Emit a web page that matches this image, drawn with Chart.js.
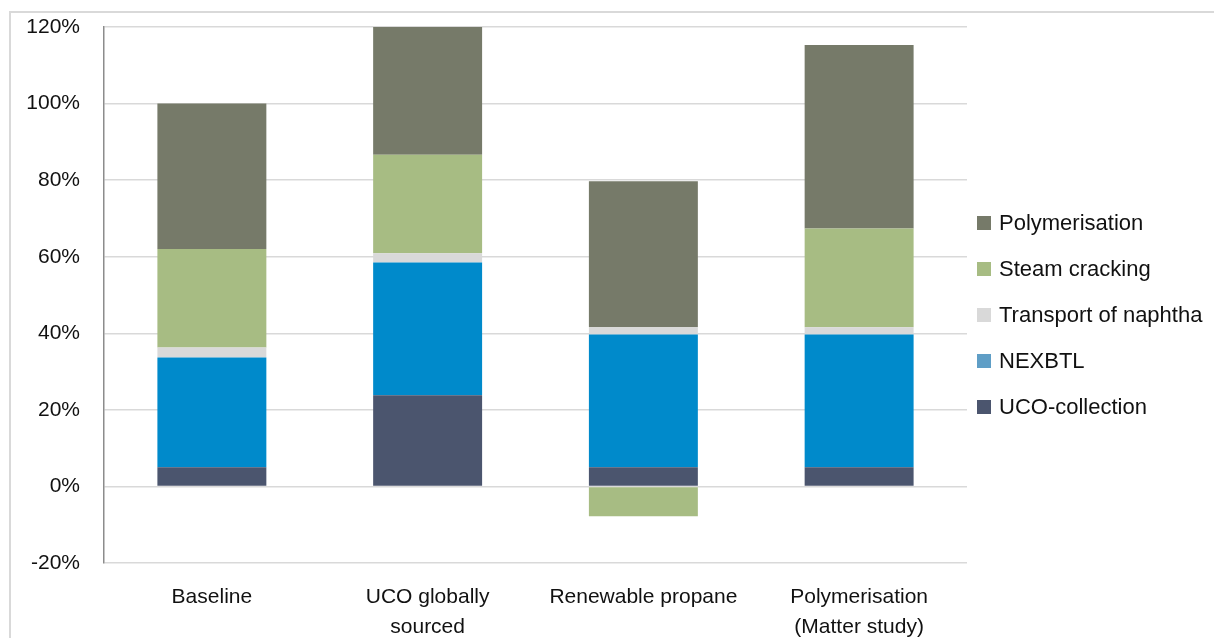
<!DOCTYPE html>
<html>
<head>
<meta charset="utf-8">
<script src="https://cdn.jsdelivr.net/npm/chart.js@4.4.1/dist/chart.umd.min.js"></script>
<style>
    html, body { margin: 0; padding: 0; background: #fff; }
    #wrap { position: relative; width: 1214px; height: 638px; overflow: hidden; }
    #frame { position: absolute; left: 9px; top: 11px; width: 1400px; height: 900px;
             border-top: 2px solid #d9d9d9; border-left: 2px solid #d9d9d9; }
    #holder { position: absolute; left: 0; top: 0; width: 1214px; height: 700px; }
</style>
</head>
<body>
<div id="wrap">
    <div id="frame"></div>
    <div id="holder"><canvas id="lcaChart"></canvas></div>
</div>
<script>
// Scenario categories and emission shares (% of baseline)
const categories = ['Baseline', ['UCO globally', 'sourced'], 'Renewable propane', ['Polymerisation', '(Matter study)']];
const ucoCollection = [5, 23.8, 5, 5];
const nexbtl = [28.7, 34.7, 34.7, 34.7];
const transportNaphtha = [2.6, 2.4, 1.9, 1.9];
const steamCracking = [25.7, 25.7, -7.8, 25.8];
const polymerisation = [38, 33.6, 38.1, 47.9];
const yTicks = [-20, 0, 20, 40, 60, 80, 100, 120];

const FONT = "'Liberation Sans', Arial, sans-serif";

// legend drawn by hand so it can sit right of the plot and run off the edge
const sideLegend = {
    id: 'sideLegend',
    afterDraw(chart) {
        const ctx = chart.ctx;
        const area = chart.chartArea;
        const sets = chart.data.datasets.slice().reverse();
        ctx.save();
        ctx.font = '22px ' + FONT;
        ctx.textBaseline = 'middle';
        ctx.textAlign = 'left';
        sets.forEach((ds, i) => {
            const y = 223 + i * 46;
            ctx.fillStyle = ds.legendColor;
            ctx.fillRect(area.right + 10, y - 7, 14, 14);
            ctx.fillStyle = '#111';
            ctx.fillText(ds.label, area.right + 32, y + 1);
        });
        ctx.restore();
    }
};

const ctx = document.getElementById('lcaChart');
new Chart(ctx, {
    type: 'bar',
    data: {
        labels: categories,
        datasets: [
            { label: 'UCO-collection', data: ucoCollection, backgroundColor: '#4b556e', legendColor: '#4b556e' },
            { label: 'NEXBTL', data: nexbtl, backgroundColor: '#008acb', legendColor: '#5f9ec6' },
            { label: 'Transport of naphtha', data: transportNaphtha, backgroundColor: '#d9d9d9', legendColor: '#d9d9d9' },
            { label: 'Steam cracking', data: steamCracking, backgroundColor: '#a7bc83', legendColor: '#a7bc83' },
            { label: 'Polymerisation', data: polymerisation, backgroundColor: '#767a69', legendColor: '#767a69' }
        ]
    },
    options: {
        responsive: true,
        maintainAspectRatio: false,
        animation: false,
        layout: { padding: { top: 27, right: 247, bottom: 0, left: 0 } },
        datasets: { bar: { barPercentage: 0.505, categoryPercentage: 1, borderWidth: 0 } },
        plugins: {
            legend: { display: false },
            tooltip: { enabled: false }
        },
        scales: {
            x: {
                stacked: true,
                grid: { display: false },
                border: { display: false },
                ticks: {
                    color: '#111',
                    font: { family: FONT, size: 21, lineHeight: 1.4 },
                    padding: 12, maxRotation: 0, autoSkip: false
                },
                afterFit: (scale) => {
                    scale.height = 700 - 563;
                    scale.paddingLeft = 0;
                    scale.paddingRight = 0;
                }
            },
            y: {
                stacked: true,
                min: -20,
                max: 120,
                afterBuildTicks: (scale) => { scale.ticks = yTicks.map(v => ({ value: v })); },
                grid: { color: '#d9d9d9', lineWidth: 1.5, drawTicks: false },
                border: { display: true, color: '#8c8c8c', width: 1.5 },
                ticks: {
                    color: '#111',
                    font: { family: FONT, size: 21 },
                    padding: 24,
                    callback: (v) => v + '%'
                },
                afterFit: (scale) => {
                    scale.width = 104;
                    scale.paddingTop = 0;
                    scale.paddingBottom = 0;
                }
            }
        }
    },
    plugins: [sideLegend]
});
</script>
</body>
</html>
